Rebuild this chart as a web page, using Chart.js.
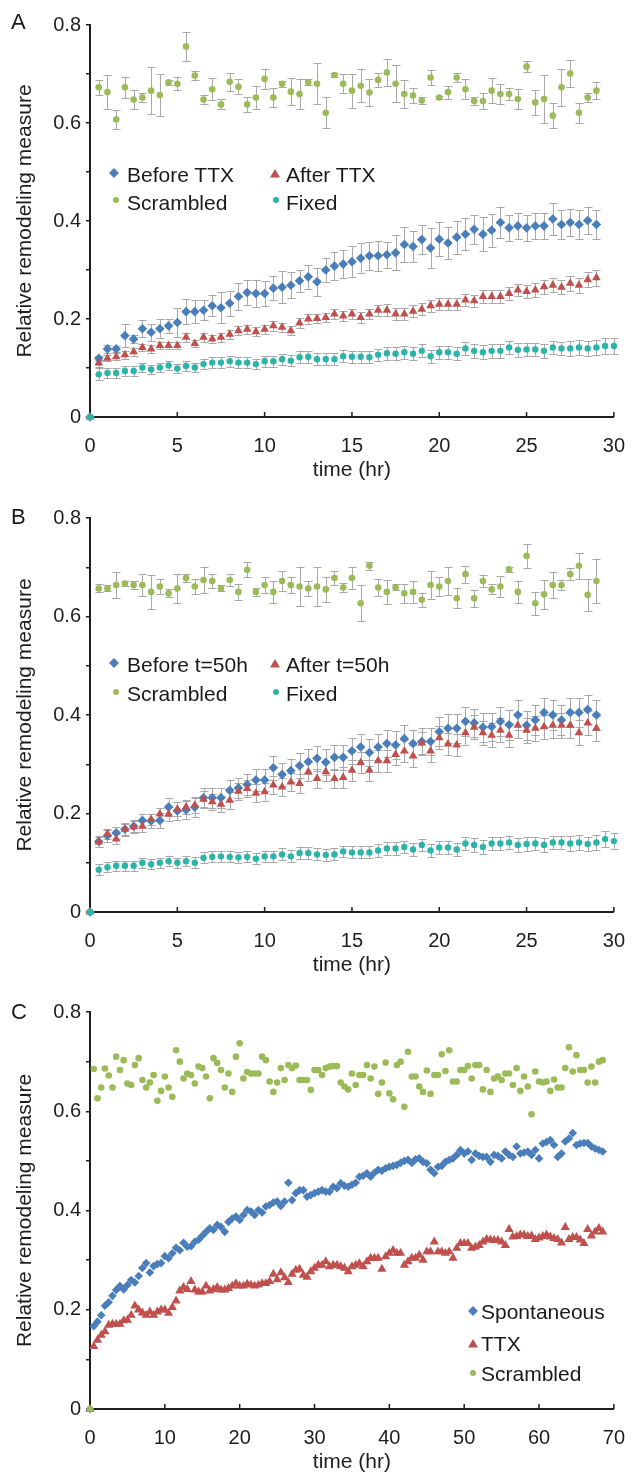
<!DOCTYPE html>
<html><head><meta charset="utf-8">
<script src="https://cdn.jsdelivr.net/npm/chart.js@4.4.0/dist/chart.umd.min.js"></script>
<style>
html,body{margin:0;padding:0;background:#fff;}
body{width:642px;height:1477px;position:relative;overflow:hidden;font-family:'Liberation Sans',Arial,sans-serif;color:#1a1a1a;}
.panel{position:absolute;left:0;width:642px;}
.letter{position:absolute;font-size:22px;line-height:24px;}
.leg{position:absolute;font-size:21px;line-height:22px;white-space:nowrap;}
.mk{position:absolute;}
</style></head>
<body>
<div class="panel" style="top:0;height:485px"><canvas id="cA" width="642" height="485"></canvas></div>
<div class="panel" style="top:493px;height:487px"><canvas id="cB" width="642" height="487"></canvas></div>
<div class="panel" style="top:987px;height:490px"><canvas id="cC" width="642" height="490"></canvas></div>

<div class="letter" style="left:11px;top:10px">A</div>
<div class="letter" style="left:11px;top:505px">B</div>
<div class="letter" style="left:11px;top:1000px">C</div>

<!-- legend A -->
<svg class="mk" style="left:109px;top:168px" width="10" height="10"><path d="M5 0L10 5L5 10L0 5Z" fill="#4A7EBB"/></svg>
<div class="leg" style="left:127px;top:164px">Before TTX</div>
<svg class="mk" style="left:270px;top:168px" width="10" height="10"><path d="M5 1L10 9.5L0 9.5Z" fill="#C0504D"/></svg>
<div class="leg" style="left:286px;top:164px">After TTX</div>
<svg class="mk" style="left:112px;top:196px" width="8" height="8"><circle cx="4" cy="4" r="3" fill="#9BBB59"/></svg>
<div class="leg" style="left:127px;top:192px">Scrambled</div>
<svg class="mk" style="left:272px;top:196px" width="8" height="8"><circle cx="4" cy="4" r="3" fill="#2BB5AA"/></svg>
<div class="leg" style="left:286px;top:192px">Fixed</div>

<!-- legend B -->
<svg class="mk" style="left:109px;top:658px" width="10" height="10"><path d="M5 0L10 5L5 10L0 5Z" fill="#4A7EBB"/></svg>
<div class="leg" style="left:127px;top:654px">Before t=50h</div>
<svg class="mk" style="left:270px;top:658px" width="10" height="10"><path d="M5 1L10 9.5L0 9.5Z" fill="#C0504D"/></svg>
<div class="leg" style="left:286px;top:654px">After t=50h</div>
<svg class="mk" style="left:112px;top:688px" width="8" height="8"><circle cx="4" cy="4" r="3" fill="#9BBB59"/></svg>
<div class="leg" style="left:127px;top:683px">Scrambled</div>
<svg class="mk" style="left:272px;top:688px" width="8" height="8"><circle cx="4" cy="4" r="3" fill="#2BB5AA"/></svg>
<div class="leg" style="left:286px;top:683px">Fixed</div>

<!-- legend C -->
<svg class="mk" style="left:468px;top:1306px" width="10" height="10"><path d="M5 0L10 5L5 10L0 5Z" fill="#4A7EBB"/></svg>
<div class="leg" style="left:481px;top:1301px">Spontaneous</div>
<svg class="mk" style="left:468px;top:1338px" width="10" height="10"><path d="M5 1L10 9.5L0 9.5Z" fill="#C0504D"/></svg>
<div class="leg" style="left:481px;top:1333px">TTX</div>
<svg class="mk" style="left:469px;top:1369px" width="8" height="8"><circle cx="4" cy="4" r="3" fill="#9BBB59"/></svg>
<div class="leg" style="left:481px;top:1363px">Scrambled</div>

<script>
// ---------- tick labels ----------
const yTickLabels = ['0','','0.2','','0.4','','0.6','','0.8'];
const xTickLabelsAB = ['0','5','10','15','20','25','30'];
const xTickLabelsC = ['0','10','20','30','40','50','60','70'];

// ---------- time points (hr) ----------
const times29 = [0.5,1,1.5,2,2.5,3,3.5,4,4.5,5,5.5,6,6.5,7,7.5,8,8.5,9,9.5,10,10.5,11,11.5,12,12.5,13,13.5,14,14.5,15,15.5,16,16.5,17,17.5,18,18.5,19,19.5,20,20.5,21,21.5,22,22.5,23,23.5,24,24.5,25,25.5,26,26.5,27,27.5,28,28.5,29];
const times30 = [0.5,1,1.5,2,2.5,3,3.5,4,4.5,5,5.5,6,6.5,7,7.5,8,8.5,9,9.5,10,10.5,11,11.5,12,12.5,13,13.5,14,14.5,15,15.5,16,16.5,17,17.5,18,18.5,19,19.5,20,20.5,21,21.5,22,22.5,23,23.5,24,24.5,25,25.5,26,26.5,27,27.5,28,28.5,29,29.5,30];
const timesC = [
 0.5,1,1.5,2,2.5,3,3.5,4,4.5,5, 5.5,6,6.5,7,7.5,8,8.5,9,9.5,10,
 10.5,11,11.5,12,12.5,13,13.5,14,14.5,15, 15.5,16,16.5,17,17.5,18,18.5,19,19.5,20,
 20.5,21,21.5,22,22.5,23,23.5,24,24.5,25, 25.5,26,26.5,27,27.5,28,28.5,29,29.5,30,
 30.5,31,31.5,32,32.5,33,33.5,34,34.5,35, 35.5,36,36.5,37,37.5,38,38.5,39,39.5,40,
 40.5,41,41.5,42,42.5,43,43.5,44,44.5,45, 45.5,46,46.5,47,47.5,48,48.5,49,49.5,50,
 50.5,51,51.5,52,52.5,53,53.5,54,54.5,55, 55.5,56,56.5,57,57.5,58,58.5,59,59.5,60,
 60.5,61,61.5,62,62.5,63,63.5,64,64.5,65, 65.5,66,66.5,67,67.5,68,68.5];

// ---------- Panel A ----------
const beforeTTX_A = [0.120,0.139,0.139,0.166,0.159,0.180,0.173,0.180,0.186,0.193,0.215,0.215,0.218,0.227,0.223,0.232,0.246,0.254,0.252,0.252,0.263,0.265,0.269,0.278,0.286,
 0.276,0.300,0.308,0.312,0.317,0.324,0.329,0.329,0.331,0.335,0.352,0.348,0.362,0.345,0.363,0.355,0.367,0.373,0.383,0.373,0.381,0.397,0.386,0.390,0.386,0.390,0.390,0.404,0.393,0.397,0.393,0.401,0.393];
const beforeTTX_A_err = [0.005,0.008,0.006,0.023,0.008,0.017,0.017,0.019,0.015,0.029,0.026,0.024,0.02,0.021,0.032,0.025,0.027,0.025,0.027,0.026,0.024,0.032,0.027,0.022,0.024,
 0.029,0.024,0.029,0.029,0.032,0.031,0.029,0.031,0.027,0.036,0.036,0.031,0.03,0.04,0.035,0.032,0.034,0.033,0.03,0.035,0.034,0.032,0.027,0.027,0.027,0.027,0.027,0.032,0.03,0.028,0.03,0.028,0.03];
const afterTTX_A = [0.110,0.120,0.123,0.127,0.133,0.142,0.139,0.146,0.146,0.146,0.163,0.150,0.163,0.159,0.163,0.169,0.176,0.179,0.174,0.179,0.186,0.183,0.176,0.192,0.200,
 0.201,0.203,0.210,0.206,0.210,0.203,0.210,0.218,0.218,0.210,0.210,0.216,0.220,0.227,0.230,0.230,0.230,0.239,0.237,0.246,0.246,0.246,0.252,0.259,0.256,0.259,0.266,0.269,0.265,0.273,0.269,0.280,0.284];
const afterTTX_A_err = [0.007,0.006,0.007,0.008,0.008,0.008,0.008,0.008,0.008,0.008,0.009,0.008,0.009,0.008,0.009,0.009,0.009,0.009,0.009,0.009,0.01,0.009,0.009,0.01,0.01,
 0.01,0.01,0.011,0.011,0.011,0.011,0.011,0.011,0.012,0.012,0.012,0.012,0.012,0.012,0.012,0.012,0.012,0.013,0.013,0.013,0.013,0.013,0.013,0.013,0.014,0.014,0.014,0.014,0.014,0.015,0.015,0.015,0.016];
const scrambled_A = [0.673,0.663,0.607,0.673,0.648,0.652,0.666,0.657,0.683,0.680,0.756,0.697,0.648,0.669,0.638,0.684,0.674,0.638,0.652,0.690,0.652,0.680,0.664,0.659,0.683,
 0.680,0.621,0.698,0.680,0.666,0.676,0.662,0.688,0.703,0.680,0.659,0.656,0.646,0.693,0.652,0.663,0.693,0.669,0.645,0.645,0.666,0.659,0.659,0.649,0.715,0.642,0.649,0.615,0.673,0.701,0.621,0.652,0.666];
const scrambled_A_err = [0.015,0.034,0.02,0.021,0.02,0.01,0.048,0.042,0.005,0.013,0.029,0.009,0.01,0.022,0.01,0.018,0.015,0.015,0.024,0.021,0.02,0.006,0.028,0.03,0.006,
 0.042,0.032,0.004,0.019,0.035,0.034,0.028,0.014,0.027,0.038,0.029,0.015,0.008,0.015,0.004,0.013,0.01,0.02,0.008,0.017,0.025,0.02,0.012,0.021,0.011,0.026,0.048,0.026,0.038,0.027,0.02,0.01,0.017];
const fixed_A = [0.087,0.090,0.090,0.094,0.094,0.101,0.097,0.101,0.105,0.099,0.104,0.101,0.108,0.111,0.111,0.114,0.111,0.111,0.108,0.114,0.114,0.118,0.115,0.122,0.123,
 0.118,0.118,0.118,0.124,0.123,0.123,0.122,0.127,0.130,0.129,0.132,0.129,0.135,0.124,0.132,0.132,0.129,0.140,0.135,0.132,0.135,0.135,0.142,0.137,0.138,0.138,0.135,0.142,0.140,0.140,0.142,0.140,0.142,0.145,0.145];
const fixed_A_err = [0.012,0.01,0.01,0.01,0.01,0.01,0.01,0.009,0.01,0.01,0.01,0.01,0.011,0.011,0.011,0.011,0.011,0.011,0.011,0.011,0.011,0.011,0.011,0.012,0.012,
 0.012,0.012,0.012,0.012,0.012,0.012,0.012,0.012,0.013,0.013,0.013,0.013,0.013,0.013,0.013,0.013,0.013,0.013,0.014,0.014,0.014,0.014,0.014,0.014,0.014,0.014,0.014,0.014,0.014,0.015,0.015,0.015,0.015,0.016,0.016];

// ---------- Panel B ----------
const before50_B = [0.143,0.155,0.161,0.168,0.174,0.186,0.185,0.186,0.213,0.205,0.207,0.213,0.232,0.232,0.232,0.247,0.252,0.259,0.268,0.268,0.293,0.279,0.287,0.297,0.305,0.312,
 0.304,0.314,0.314,0.327,0.335,0.324,0.335,0.342,0.339,0.352,0.342,0.346,0.346,0.366,0.373,0.373,0.387,0.384,0.375,0.376,0.387,0.380,0.400,0.379,0.390,0.405,0.400,0.390,0.405,0.405,0.411,0.400];
const before50_B_err = [0.012,0.012,0.012,0.013,0.013,0.014,0.015,0.016,0.018,0.018,0.019,0.02,0.02,0.02,0.02,0.021,0.021,0.022,0.022,0.023,0.024,0.024,0.024,0.025,0.025,0.025,
 0.026,0.026,0.026,0.027,0.027,0.027,0.027,0.028,0.028,0.028,0.028,0.028,0.028,0.029,0.029,0.029,0.029,0.029,0.029,0.029,0.03,0.03,0.03,0.03,0.03,0.03,0.03,0.03,0.03,0.03,0.03,0.03];
const after50_B = [0.142,0.159,0.148,0.168,0.173,0.174,0.188,0.199,0.199,0.209,0.213,0.217,0.229,0.224,0.219,0.227,0.245,0.251,0.241,0.244,0.258,0.254,0.264,0.261,0.285,0.271,
 0.285,0.271,0.273,0.288,0.303,0.288,0.307,0.307,0.320,0.327,0.317,0.343,0.327,0.354,0.341,0.339,0.364,0.375,0.364,0.359,0.369,0.359,0.379,0.369,0.373,0.376,0.379,0.379,0.379,0.364,0.384,0.373];
const after50_B_err = [0.01,0.01,0.01,0.011,0.011,0.012,0.012,0.013,0.014,0.014,0.015,0.015,0.016,0.016,0.016,0.017,0.017,0.017,0.018,0.018,0.018,0.019,0.019,0.019,0.02,0.02,
 0.02,0.02,0.021,0.021,0.021,0.021,0.022,0.022,0.022,0.022,0.022,0.023,0.023,0.023,0.023,0.023,0.024,0.024,0.024,0.024,0.024,0.024,0.025,0.025,0.025,0.025,0.025,0.025,0.025,0.025,0.025,0.025];
const scrambled_B = [0.657,0.657,0.664,0.667,0.664,0.664,0.650,0.661,0.647,0.657,0.678,0.661,0.674,0.672,0.657,0.674,0.650,0.695,0.650,0.664,0.650,0.672,0.664,0.661,0.657,
 0.661,0.655,0.678,0.659,0.678,0.627,0.703,0.659,0.650,0.659,0.647,0.650,0.634,0.664,0.661,0.672,0.637,0.686,0.637,0.672,0.655,0.661,0.696,0.650,0.723,0.627,0.645,0.664,0.664,0.686,0.703,0.644,0.672];
const scrambled_B_err = [0.008,0.006,0.027,0.006,0.008,0.022,0.034,0.015,0.008,0.03,0.008,0.015,0.027,0.015,0.006,0.012,0.017,0.015,0.008,0.017,0.023,0.02,0.017,0.04,0.015,
 0.04,0.025,0.015,0.01,0.023,0.036,0.008,0.017,0.025,0.006,0.02,0.023,0.014,0.028,0.02,0.028,0.02,0.017,0.017,0.013,0.01,0.022,0.005,0.022,0.025,0.023,0.03,0.027,0.011,0.012,0.026,0.032,0.044];
const fixed_B = [0.086,0.091,0.094,0.094,0.094,0.100,0.097,0.100,0.103,0.100,0.103,0.100,0.110,0.112,0.113,0.112,0.111,0.112,0.108,0.113,0.113,0.117,0.113,0.120,0.120,0.117,
 0.116,0.117,0.123,0.121,0.121,0.121,0.125,0.129,0.129,0.132,0.127,0.136,0.125,0.131,0.131,0.127,0.139,0.136,0.132,0.139,0.139,0.141,0.136,0.138,0.139,0.136,0.141,0.141,0.139,0.141,0.138,0.141,0.148,0.144];
const fixed_B_err = [0.011,0.01,0.01,0.01,0.01,0.01,0.01,0.01,0.01,0.01,0.01,0.011,0.011,0.011,0.011,0.011,0.011,0.011,0.011,0.011,0.011,0.012,0.012,0.012,0.012,0.012,
 0.012,0.012,0.012,0.012,0.012,0.012,0.013,0.013,0.013,0.013,0.013,0.013,0.013,0.013,0.013,0.013,0.014,0.014,0.014,0.014,0.014,0.014,0.014,0.014,0.014,0.014,0.014,0.014,0.015,0.015,0.015,0.015,0.016,0.016];

// ---------- Panel C ----------
const spontaneous_C = [
 0.167,0.176,0.189,0.208,0.215,0.228,0.240,0.248,0.241,0.250, 0.260,0.255,0.268,0.284,0.294,0.275,0.288,0.292,0.294,0.308,
 0.304,0.314,0.325,0.320,0.335,0.327,0.328,0.337,0.341,0.349, 0.357,0.364,0.361,0.371,0.367,0.357,0.377,0.384,0.388,0.381,
 0.391,0.401,0.398,0.391,0.401,0.396,0.408,0.411,0.416,0.418, 0.409,0.418,0.456,0.421,0.435,0.441,0.441,0.428,0.431,0.435,
 0.438,0.441,0.438,0.438,0.448,0.445,0.455,0.450,0.448,0.452, 0.456,0.468,0.470,0.475,0.468,0.476,0.482,0.480,0.485,0.488,
 0.490,0.492,0.496,0.500,0.502,0.496,0.503,0.505,0.498,0.495, 0.482,0.475,0.488,0.490,0.498,0.502,0.505,0.512,0.522,0.515,
 0.519,0.502,0.515,0.510,0.508,0.508,0.498,0.512,0.510,0.505, 0.519,0.512,0.508,0.529,0.515,0.517,0.519,0.512,0.522,0.505,
 0.535,0.538,0.542,0.532,0.508,0.515,0.539,0.545,0.556,0.532, 0.535,0.536,0.536,0.529,0.525,0.522,0.519];
const ttx_C = [
 0.126,0.139,0.149,0.156,0.169,0.171,0.171,0.171,0.178,0.179, 0.189,0.208,0.200,0.194,0.189,0.196,0.189,0.196,0.200,0.200,
 0.193,0.205,0.218,0.238,0.245,0.241,0.257,0.240,0.236,0.236, 0.248,0.238,0.241,0.245,0.240,0.240,0.243,0.248,0.253,0.248,
 0.248,0.252,0.250,0.248,0.250,0.253,0.253,0.257,0.272,0.261, 0.275,0.265,0.255,0.272,0.280,0.282,0.270,0.266,0.277,0.284,
 0.290,0.290,0.297,0.287,0.290,0.290,0.287,0.284,0.277,0.287, 0.290,0.293,0.287,0.297,0.304,0.304,0.304,0.282,0.307,0.314,
 0.320,0.314,0.314,0.290,0.297,0.304,0.304,0.310,0.300,0.317, 0.317,0.337,0.317,0.317,0.314,0.317,0.304,0.324,0.334,0.334,
 0.334,0.324,0.327,0.330,0.337,0.342,0.341,0.340,0.340,0.337, 0.330,0.362,0.347,0.348,0.351,0.351,0.348,0.349,0.342,0.345,
 0.348,0.351,0.347,0.344,0.342,0.335,0.366,0.342,0.346,0.346, 0.341,0.334,0.362,0.349,0.357,0.364,0.357];
const scrambled_C = [
 0.685,0.626,0.648,0.686,0.672,0.648,0.710,0.683,0.703,0.656, 0.653,0.693,0.707,0.663,0.648,0.658,0.673,0.621,0.641,0.670,
 0.648,0.629,0.723,0.700,0.666,0.676,0.673,0.656,0.690,0.687, 0.670,0.626,0.707,0.697,0.683,0.648,0.676,0.639,0.710,0.737,
 0.666,0.679,0.676,0.676,0.676,0.710,0.703,0.660,0.639,0.658, 0.687,0.663,0.693,0.687,0.692,0.663,0.663,0.663,0.643,0.683,
 0.683,0.673,0.687,0.690,0.691,0.691,0.658,0.650,0.644,0.676, 0.653,0.673,0.673,0.693,0.666,0.690,0.635,0.658,0.698,0.636,
 0.624,0.693,0.700,0.609,0.720,0.670,0.670,0.650,0.639,0.682, 0.635,0.673,0.673,0.715,0.681,0.723,0.660,0.660,0.683,0.683,
 0.691,0.666,0.693,0.693,0.644,0.683,0.639,0.666,0.670,0.663, 0.676,0.676,0.653,0.687,0.641,0.670,0.650,0.594,0.680,0.660,
 0.658,0.660,0.641,0.664,0.648,0.648,0.687,0.729,0.680,0.713, 0.683,0.683,0.658,0.690,0.658,0.700,0.703];

// ---------- styling ----------
const FONT = "'Liberation Sans', Arial, sans-serif";
const COL = {blue:'#4A7EBB', red:'#C0504D', green:'#9BBB59', teal:'#2BB5AA', axis:'#1e1e1e', err:'#a8a8a8'};

function series(label, times, vals, errs, color, shape, radius, order){
  const data = [{x:0,y:0}].concat(times.map((t,i)=>({x:t, y:vals[i]})));
  return {label, data, errors: errs ? [null].concat(errs) : null,
    showLine:false, pointStyle:shape, pointRadius:radius, pointBackgroundColor:color,
    pointBorderWidth:0, pointBorderColor:color, backgroundColor:color, borderColor:color,
    clip:false, order};
}

const errorBars = {
  id:'errorBars',
  beforeDatasetsDraw(chart){
    const {ctx, scales:{x, y}} = chart;
    ctx.save(); ctx.strokeStyle = COL.err; ctx.lineWidth = 1;
    chart.data.datasets.forEach(ds=>{
      if(!ds.errors) return;
      ds.data.forEach((p,i)=>{
        const e = ds.errors[i]; if(e==null) return;
        const px = Math.round(x.getPixelForValue(p.x))+0.5;
        const t = Math.round(y.getPixelForValue(p.y+e))+0.5, b = Math.round(y.getPixelForValue(p.y-e))+0.5;
        ctx.beginPath();
        ctx.moveTo(px,t); ctx.lineTo(px,b);
        ctx.moveTo(px-4,t); ctx.lineTo(px+4,t);
        ctx.moveTo(px-4,b); ctx.lineTo(px+4,b);
        ctx.stroke();
      });
    });
    ctx.restore();
  }
};
const innerXTicks = {
  id:'innerXTicks',
  afterDraw(chart){
    const {ctx, scales:{x}, chartArea} = chart;
    ctx.save(); ctx.strokeStyle = COL.axis; ctx.lineWidth = 1.5;
    x.ticks.forEach(t=>{
      const px = x.getPixelForValue(t.value);
      if (px <= chartArea.left+1) return;
      ctx.beginPath(); ctx.moveTo(px, chartArea.bottom); ctx.lineTo(px, chartArea.bottom-5); ctx.stroke();
    });
    ctx.restore();
  }
};

function makeChart(id, datasets, xMax, xStep, xLabels, padRight){
  return new Chart(document.getElementById(id), {
    type:'scatter',
    data:{datasets},
    options:{
      responsive:false, animation:false, devicePixelRatio:1, events:[],
      layout:{padding:{left:0, right:padRight, top:25, bottom:0}},
      plugins:{legend:{display:false}, tooltip:{enabled:false}},
      scales:{
        x:{type:'linear', min:0, max:xMax,
           afterFit(s){ s.height = 68; },
           ticks:{stepSize:xStep, autoSkip:false, maxRotation:0, padding:17, color:COL.axis,
                  font:{family:FONT, size:20}, callback:(v,i)=>xLabels[i]},
           grid:{display:true, drawOnChartArea:false, drawTicks:false},
           border:{display:true, color:COL.axis, width:2},
           title:{display:true, text:'time (hr)', color:COL.axis, font:{family:FONT, size:21}, padding:{top:0, bottom:2}}},
        y:{type:'linear', min:0, max:0.8,
           afterFit(s){ s.width = 90; },
           ticks:{stepSize:0.1, padding:5, color:COL.axis, font:{family:FONT, size:20},
                  callback:(v,i)=>yTickLabels[i]},
           grid:{display:true, drawOnChartArea:false, drawTicks:true, tickLength:4, color:COL.axis, lineWidth:1.5},
           border:{display:true, color:COL.axis, width:2},
           title:{display:true, text:'Relative remodeling measure', color:COL.axis, font:{family:FONT, size:21}, padding:{top:13, bottom:0}}}
      }
    },
    plugins:[errorBars, innerXTicks]
  });
}

makeChart('cA', [
  series('Before TTX', times29, beforeTTX_A, beforeTTX_A_err, COL.blue, 'rectRot', 4.8, 4),
  series('After TTX', times29, afterTTX_A, afterTTX_A_err, COL.red, 'triangle', 5, 3),
  series('Scrambled', times29, scrambled_A, scrambled_A_err, COL.green, 'circle', 3.3, 2),
  series('Fixed', times30, fixed_A, fixed_A_err, COL.teal, 'circle', 3.2, 1)
], 30, 5, xTickLabelsAB, 17);

makeChart('cB', [
  series('Before t=50h', times29, before50_B, before50_B_err, COL.blue, 'rectRot', 4.8, 4),
  series('After t=50h', times29, after50_B, after50_B_err, COL.red, 'triangle', 5, 3),
  series('Scrambled', times29, scrambled_B, scrambled_B_err, COL.green, 'circle', 3.3, 2),
  series('Fixed', times30, fixed_B, fixed_B_err, COL.teal, 'circle', 3.2, 1)
], 30, 5, xTickLabelsAB, 24);

makeChart('cC', [
  series('Spontaneous', timesC, spontaneous_C, null, COL.blue, 'rectRot', 4.3, 3),
  series('TTX', timesC, ttx_C, null, COL.red, 'triangle', 5.3, 2),
  series('Scrambled', timesC, scrambled_C, null, COL.green, 'circle', 3.3, 1)
], 70, 10, xTickLabelsC, 17);
</script>
</body></html>
